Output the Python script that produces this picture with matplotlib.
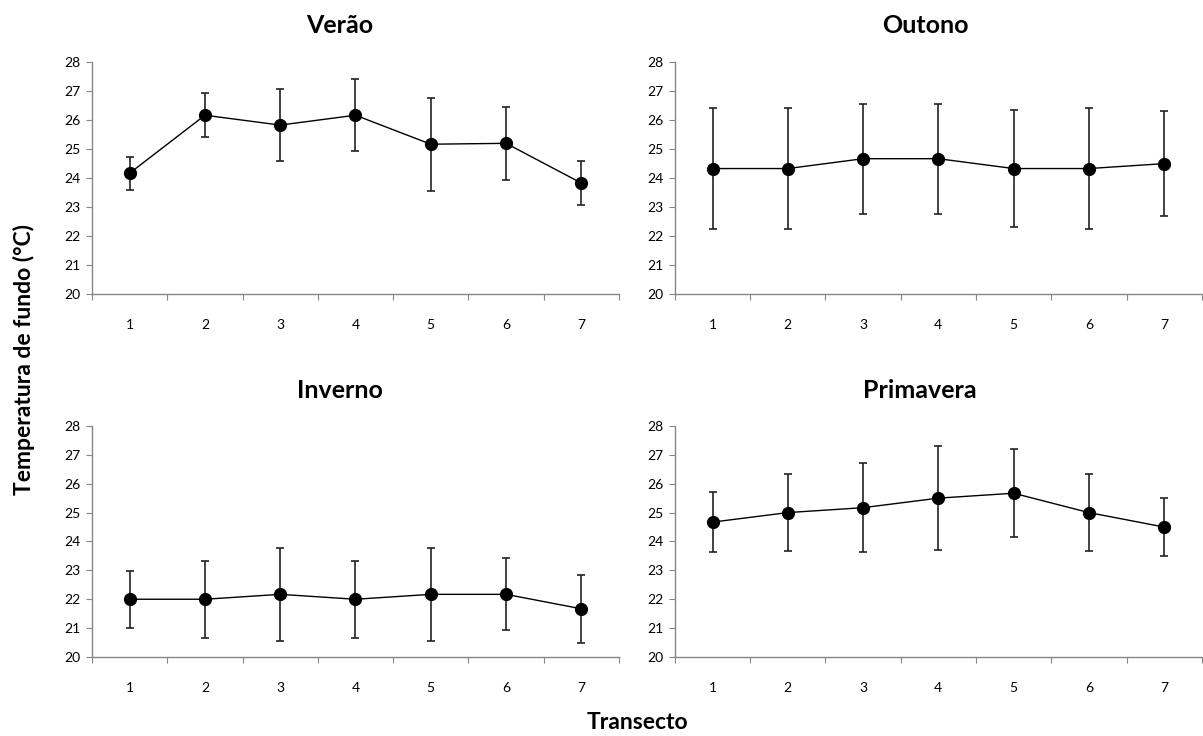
import numpy as np
import matplotlib
matplotlib.use("Agg")
import matplotlib.pyplot as plt
from matplotlib.ticker import FixedLocator, NullFormatter

plt.rcParams['font.family'] = ['Lato', 'DejaVu Sans']

# data
transectos = [1, 2, 3, 4, 5, 6, 7]
titles = ['Verão', 'Outono', 'Inverno', 'Primavera']

verao_mean = [24.17, 26.17, 25.83, 26.17, 25.17, 25.2, 23.83]
verao_err = [0.57, 0.76, 1.25, 1.25, 1.6, 1.27, 0.76]

outono_mean = [24.33, 24.33, 24.67, 24.67, 24.33, 24.33, 24.5]
outono_err = [2.1, 2.1, 1.9, 1.9, 2.02, 2.1, 1.8]

inverno_mean = [22.0, 22.0, 22.17, 22.0, 22.17, 22.17, 21.67]
inverno_err = [0.98, 1.33, 1.6, 1.33, 1.6, 1.25, 1.17]

primavera_mean = [24.67, 25.0, 25.17, 25.5, 25.67, 25.0, 24.5]
primavera_err = [1.05, 1.33, 1.55, 1.8, 1.53, 1.33, 1.0]

means = [verao_mean, outono_mean, inverno_mean, primavera_mean]
errs = [verao_err, outono_err, inverno_err, primavera_err]

fig = plt.figure(figsize=(12.03, 7.36), dpi=100)

# axes rectangles (left, bottom, width, height)
rects = [
    (0.0765, 0.6005, 0.438, 0.315),
    (0.561, 0.6005, 0.438, 0.315),
    (0.0765, 0.1073, 0.438, 0.314),
    (0.561, 0.1073, 0.438, 0.314),
]
# title centres (figure fraction), Excel centres them on the chart area
title_pos = [(0.2826, 0.966), (0.769, 0.966), (0.2826, 0.470), (0.765, 0.470)]
gray = '#868686'

for rect, title, tp, m, e in zip(rects, titles, title_pos, means, errs):
    ax = fig.add_axes(rect)
    ax.errorbar(transectos, m, yerr=e, color='black', lw=1.0,
                marker='o', markersize=8.5, ecolor='#222222', elinewidth=1.2,
                capsize=3, capthick=1.2)
    ax.set_xlim(0.5, 7.5)
    ax.set_ylim(20, 28)
    ax.set_yticks(range(20, 29))
    # category boundaries as tick marks, labels at centres
    ax.xaxis.set_major_locator(FixedLocator(np.arange(0.5, 8.0, 1.0)))
    ax.xaxis.set_major_formatter(NullFormatter())
    ax.xaxis.set_minor_locator(FixedLocator(transectos))
    ax.set_xticklabels([str(t) for t in transectos], minor=True)
    ax.tick_params(axis='x', which='minor', length=0, pad=18, labelsize=10)
    ax.tick_params(axis='x', which='major', length=4, color=gray, direction='out')
    ax.tick_params(axis='y', length=4, color=gray, direction='out', labelsize=10, pad=4)
    for s in ['top', 'right']:
        ax.spines[s].set_visible(False)
    for s in ['left', 'bottom']:
        ax.spines[s].set_color(gray)
        ax.spines[s].set_linewidth(1.0)
    fig.text(tp[0], tp[1], title, fontsize=18, fontweight='bold',
             ha='center', va='center')

fig.text(0.02, 0.512, 'Temperatura de fundo (°C)', rotation=90, fontsize=16.5,
         fontweight='bold', ha='center', va='center')
fig.text(0.53, 0.018, 'Transecto', fontsize=16.5, fontweight='bold',
         ha='center', va='center')

fig.savefig('out.png', dpi=100)
